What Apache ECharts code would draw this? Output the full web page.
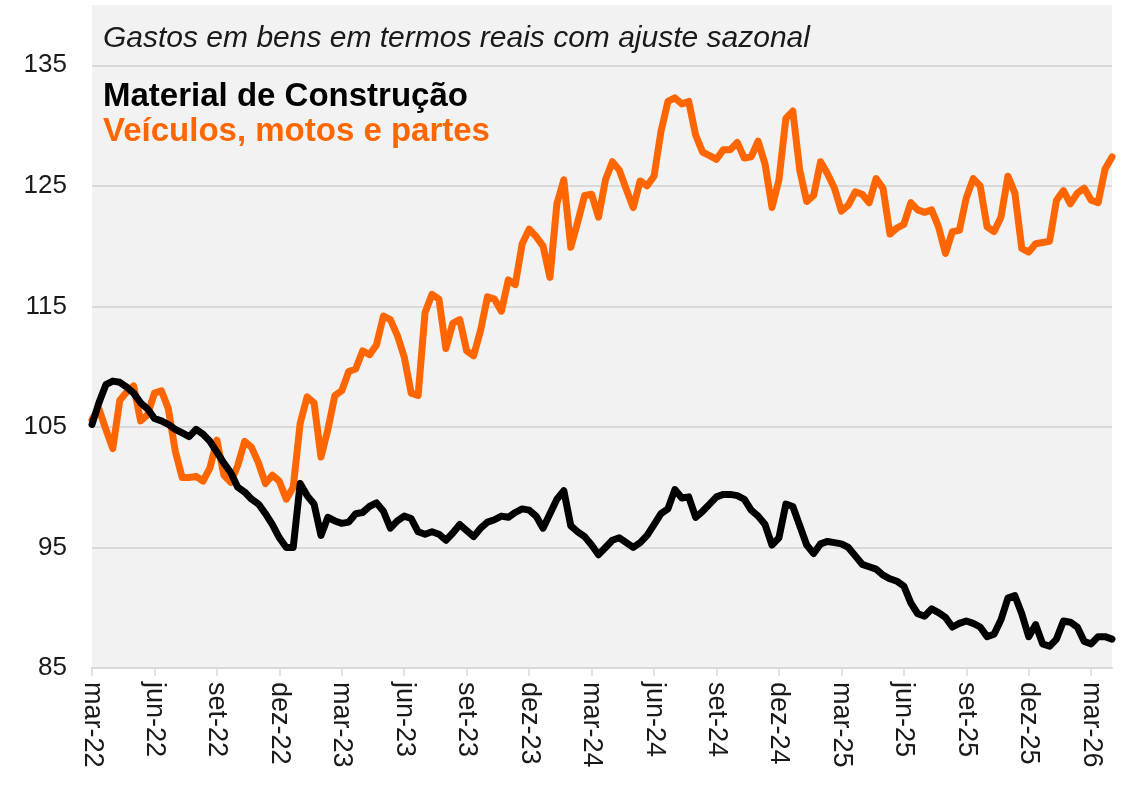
<!DOCTYPE html>
<html>
<head>
<meta charset="utf-8">
<script src="https://cdn.jsdelivr.net/npm/echarts@6/dist/echarts.min.js"></script>
<style>
html,body{margin:0;padding:0;background:#ffffff;}
#chart{width:1132px;height:785px;}
</style>
</head>
<body>
<div id="chart"></div>
<script>
// x tick labels: one per quarter, starting at mar-22 (month index 0)
const xTickLabels = ['mar-22','jun-22','set-22','dez-22','mar-23','jun-23','set-23','dez-23','mar-24','jun-24','set-24','dez-24','mar-25','jun-25','set-25','dez-25','mar-26'];
const yTickLabels = [85, 95, 105, 115, 125, 135];
// sample spacing in months (values read every 1/3 month from mar-22)
const sampleStep = 1 / 3;

const construcao = [
105.2,107.0,108.5,108.8,108.7,108.3,107.8,107.0,106.5,105.7,
105.5,105.2,104.8,104.5,104.2,104.8,104.4,103.8,102.9,102.0,
101.2,100.0,99.6,99.0,98.6,97.8,96.9,95.8,95.0,95.0,
100.3,99.3,98.6,96.0,97.5,97.2,97.0,97.1,97.8,97.9,
98.4,98.7,98.0,96.6,97.2,97.6,97.4,96.3,96.1,96.3,
96.1,95.6,96.2,96.9,96.4,95.9,96.6,97.1,97.3,97.6,
97.5,97.9,98.2,98.1,97.6,96.6,97.8,99.0,99.7,96.8,
96.3,95.9,95.2,94.4,95.0,95.6,95.8,95.4,95.0,95.4,
96.0,96.9,97.8,98.2,99.8,99.1,99.2,97.5,98.0,98.6,
99.2,99.4,99.4,99.3,99.0,98.1,97.6,96.9,95.2,95.8,
98.6,98.4,96.8,95.2,94.5,95.3,95.5,95.4,95.3,95.0,
94.3,93.6,93.4,93.2,92.7,92.4,92.2,91.8,90.4,89.5,
89.3,89.9,89.6,89.2,88.4,88.7,88.9,88.7,88.4,87.6,
87.8,89.0,90.8,91.0,89.5,87.6,88.6,87.0,86.8,87.4,
88.9,88.8,88.4,87.2,87.0,87.6,87.6,87.4
];

const veiculos = [
105.6,106.5,104.8,103.2,107.2,107.9,108.4,105.5,106.0,107.8,
108.0,106.5,103.0,100.8,100.8,100.9,100.5,101.6,103.9,101.0,
100.4,101.8,103.8,103.3,102.0,100.3,101.0,100.5,99.0,100.0,
105.3,107.5,107.0,102.5,104.8,107.6,108.0,109.6,109.8,111.3,
111.0,111.8,114.2,113.9,112.6,110.8,107.8,107.6,114.5,116.0,
115.6,111.5,113.6,113.9,111.3,110.9,113.0,115.8,115.6,114.6,
117.2,116.8,120.2,121.4,120.8,120.0,117.4,123.5,125.5,119.9,
122.0,124.2,124.3,122.4,125.5,127.0,126.3,124.7,123.2,125.4,
125.0,125.8,129.5,132.0,132.3,131.8,132.0,129.2,127.8,127.5,
127.2,128.0,128.0,128.6,127.3,127.4,128.7,126.8,123.2,125.5,
130.6,131.2,126.3,123.7,124.2,127.0,126.0,124.8,122.9,123.4,
124.5,124.3,123.6,125.6,124.8,121.0,121.5,121.8,123.6,123.0,
122.8,123.0,121.6,119.4,121.2,121.3,124.0,125.6,125.0,121.6,
121.2,122.4,125.8,124.4,119.8,119.5,120.2,120.3,120.4,123.8,
124.6,123.5,124.4,124.8,123.8,123.6,126.4,127.4
];

const toPairs = arr => arr.map((v, i) => [i * sampleStep, v]);
const xTickValues = xTickLabels.map((_, k) => k * 3);
const xMax = (construcao.length - 1) * sampleStep;

const chart = echarts.init(document.getElementById('chart'), null, {renderer: 'canvas'});
const fontFam = '"Liberation Sans", Arial, sans-serif';

chart.setOption({
  animation: false,
  backgroundColor: '#ffffff',
  grid: {
    left: 92, right: 20, top: 5, bottom: 117,
    show: true, backgroundColor: '#f2f2f2', borderWidth: 0,
    containLabel: false, outerBoundsMode: 'none'
  },
  xAxis: {
    type: 'value', min: 0, max: xMax, interval: 3,
    axisLine: {show: true, lineStyle: {color: '#d9d9d9', width: 2}},
    axisTick: {show: true, length: 8, lineStyle: {color: '#d9d9d9', width: 1.5}, customValues: xTickValues},
    splitLine: {show: false},
    axisLabel: {
      rotate: -90, margin: 14, color: '#1a1a1a', fontSize: 27, fontFamily: fontFam,
      customValues: xTickValues, hideOverlap: false,
      formatter: v => {
        const k = Math.round(v / 3);
        return (Math.abs(v - 3 * k) < 1e-6 && k < xTickLabels.length) ? xTickLabels[k] : '';
      }
    }
  },
  yAxis: {
    type: 'value', min: 85, max: 140, interval: 5,
    axisLine: {show: false}, axisTick: {show: false},
    splitLine: {show: true, lineStyle: {color: ['#d9d9d9', 'rgba(0,0,0,0)'], width: 2}},
    axisLabel: {
      margin: 25, color: '#1a1a1a', fontSize: 26, fontFamily: fontFam,
      formatter: v => yTickLabels.includes(v) ? String(v) : ''
    }
  },
  graphic: [
    {type: 'text', left: 103, top: 24, z: 10, style: {text: 'Gastos em bens em termos reais com ajuste sazonal', font: 'italic 30px ' + fontFam, fill: '#1a1a1a'}},
    {type: 'text', left: 103, top: 80, z: 10, style: {text: 'Material de Construção', font: 'bold 33px ' + fontFam, fill: '#000000'}},
    {type: 'text', left: 103, top: 115, z: 10, style: {text: 'Veículos, motos e partes', font: 'bold 33px ' + fontFam, fill: '#ff6600'}}
  ],
  series: [
    {
      name: 'Veículos, motos e partes', type: 'line', data: toPairs(veiculos),
      showSymbol: false, symbol: 'none',
      lineStyle: {color: '#ff6600', width: 7, join: 'round', cap: 'round'}, z: 2
    },
    {
      name: 'Material de Construção', type: 'line', data: toPairs(construcao),
      showSymbol: false, symbol: 'none',
      lineStyle: {color: '#000000', width: 7, join: 'round', cap: 'round'}, z: 3
    }
  ]
});
</script>
</body>
</html>
